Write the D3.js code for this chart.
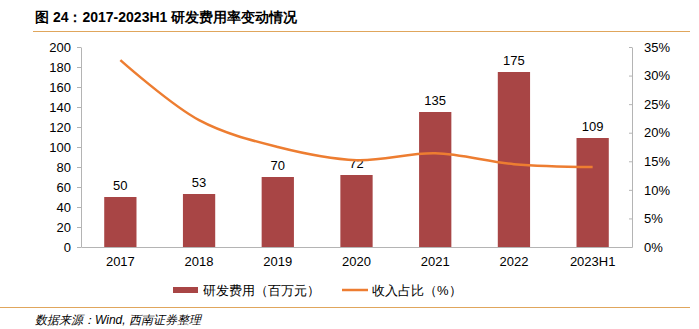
<html>
<head>
<meta charset="utf-8">
<script src="https://d3js.org/d3.v7.min.js"></script>
<style>
  body { margin: 0; background: #fff; }
  text { font-family: "Liberation Sans", Arial, sans-serif; }
  .axis path, .axis line { stroke: #b4b4b4; }
  .axis text { font-size: 13px; fill: #000; }
</style>
</head>
<body>
<svg id="chart" width="699" height="329"></svg>
<script>
const years = ["2017", "2018", "2019", "2020", "2021", "2022", "2023H1"];
const rdCost = [50, 53, 70, 72, 135, 175, 109];
const revShare = [32.7, 22.2, 17.5, 15.2, 16.4, 14.5, 14.0];

const svg = d3.select("#chart");
const margins = { top: 47, left: 81, right: 67, bottom: 82 };
const chartWidth = 699 - margins.left - margins.right;
const chartHeight = 329 - margins.top - margins.bottom;

// title
svg.append("text")
    .attr("x", 35).attr("y", 22)
    .attr("font-size", 14).attr("font-weight", "bold")
    .text("图 24：2017-2023H1 研发费用率变动情况");
svg.append("line")
    .attr("x1", 33).attr("x2", 690).attr("y1", 31.5).attr("y2", 31.5)
    .attr("stroke", "#e0a65c").attr("stroke-width", 1);

const g = svg.append("g")
    .attr("transform", "translate(" + margins.left + "," + margins.top + ")");

const xScale = d3.scaleBand().domain(years).range([0, chartWidth]).paddingInner(0.59).paddingOuter(0.295);
const xPoint = d => xScale(d) + xScale.bandwidth() / 2;
const yLeft = d3.scaleLinear().domain([0, 200]).range([chartHeight, 0]);
const yRight = d3.scaleLinear().domain([0, 35]).range([chartHeight, 0]);

// bars
g.selectAll("rect.bar").data(years).enter().append("rect")
    .attr("class", "bar")
    .attr("x", d => xScale(d))
    .attr("width", xScale.bandwidth())
    .attr("y", (d, i) => yLeft(rdCost[i]))
    .attr("height", (d, i) => chartHeight - yLeft(rdCost[i]))
    .attr("fill", "#a84545");

g.selectAll("text.val").data(years).enter().append("text")
    .attr("x", d => xPoint(d))
    .attr("y", (d, i) => yLeft(rdCost[i]) - 7)
    .attr("text-anchor", "middle")
    .attr("font-size", 13)
    .text((d, i) => rdCost[i]);

// line
const line = d3.line()
    .x((d, i) => xPoint(years[i]))
    .y(d => yRight(d))
    .curve(d3.curveCatmullRom.alpha(0.5));
g.append("path")
    .datum(revShare)
    .attr("d", line)
    .attr("fill", "none")
    .attr("stroke", "#ed7d31")
    .attr("stroke-width", 2.5);

// axes
g.append("g").attr("class", "axis")
    .call(d3.axisLeft(yLeft).tickValues(d3.range(0, 201, 20)).tickSize(4).tickSizeOuter(0).tickPadding(6));
g.append("g").attr("class", "axis")
    .attr("transform", "translate(" + chartWidth + ",0)")
    .call(d3.axisRight(yRight).tickValues(d3.range(0, 36, 5)).tickSize(-3).tickSizeOuter(0).tickPadding(12)
        .tickFormat(d => d + "%"));
const bottom = g.append("g").attr("class", "axis")
    .attr("transform", "translate(0," + chartHeight + ")")
    .call(d3.axisBottom(xScale).tickSize(0).tickSizeOuter(0).tickPadding(10));

// legend
const legend = svg.append("g");
legend.append("rect").attr("x", 173).attr("y", 287).attr("width", 25).attr("height", 6).attr("fill", "#a84545");
legend.append("text").attr("x", 203).attr("y", 295).attr("font-size", 13).text("研发费用（百万元）");
legend.append("line").attr("x1", 342).attr("x2", 368).attr("y1", 290).attr("y2", 290)
    .attr("stroke", "#ed7d31").attr("stroke-width", 2.5);
legend.append("text").attr("x", 372).attr("y", 295).attr("font-size", 13).text("收入占比（%）");

// footer
svg.append("line")
    .attr("x1", 0).attr("x2", 690).attr("y1", 307.5).attr("y2", 307.5)
    .attr("stroke", "#e0a65c").attr("stroke-width", 1);
svg.append("text")
    .attr("x", 35).attr("y", 324)
    .attr("font-size", 12).attr("font-style", "italic")
    .text("数据来源：Wind,  西南证券整理");
</script>
</body>
</html>
